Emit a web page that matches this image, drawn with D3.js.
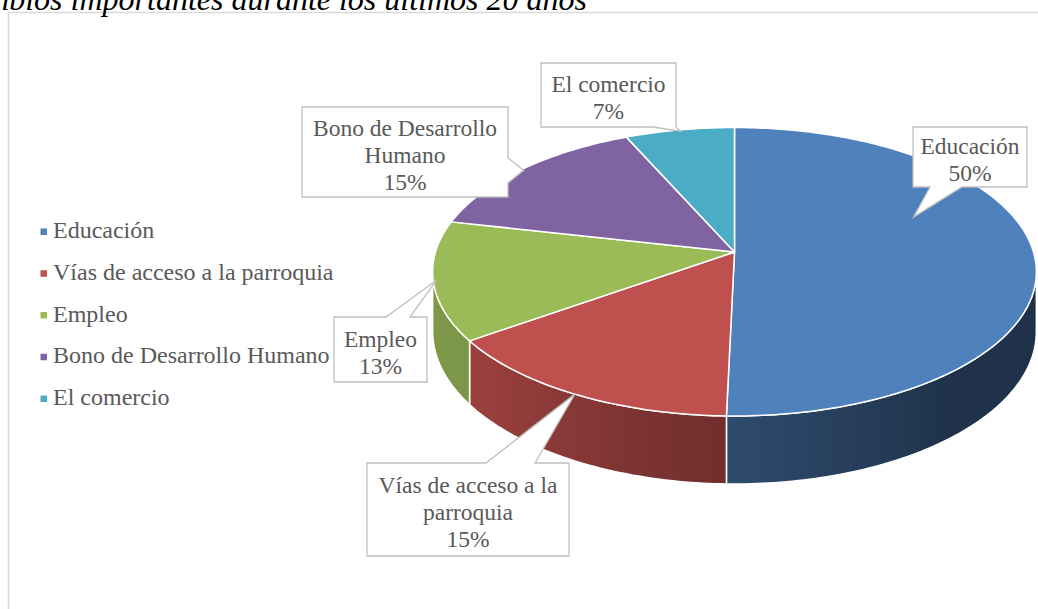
<!DOCTYPE html>
<html>
<head>
<meta charset="utf-8">
<script src="https://cdn.jsdelivr.net/npm/d3@7"></script>
<style>
  body { margin: 0; background: #fff; }
  svg { display: block; font-family: "Liberation Serif", "Times New Roman", serif; }
</style>
</head>
<body>
<div id="chart"></div>
<script>
var categories = ["Educación", "Vías de acceso a la parroquia", "Empleo", "Bono de Desarrollo Humano", "El comercio"];
var values = [68, 20, 18, 20, 9];
var colors = ["#4f81bd", "#c0504d", "#9bbb59", "#8064a2", "#4bacc6"];
var labelLines = [["Educación"], ["Vías de acceso a la", "parroquia"], ["Empleo"], ["Bono de Desarrollo", "Humano"], ["El comercio"]];
var title = "Cambios importantes durante los últimos 20 años";

var W = 1038, H = 609;

// pie geometry (tilted, with a bit of perspective)
var cx = 734.5, cy = 252, R = 299, RY = 141.5, P = 0.137, DEPTH = 58.7;

// callout boxes: position, size, which side the pointer leaves from, pointer base offsets
var boxes = [
  {x: 913, y: 127, w: 114, h: 60, side: "bottom", a: 17, b: 49, f: 0.373, r: 0.67},
  {x: 367, y: 463, w: 202, h: 93, side: "top", a: 119, b: 168, f: 0.5, r: 1.0},
  {x: 334, y: 317, w: 93, h: 65, side: "top", a: 52, b: 76, f: 0.5, r: 0.99},
  {x: 302, y: 107, w: 206, h: 90, side: "right", a: 51, b: 76, f: 0.5, r: 0.99},
  {x: 541, y: 63, w: 135, h: 64, side: "bottom", a: 112, b: 135, f: 0.5, r: 0.99}
];

var svg = d3.select("#chart").append("svg")
  .attr("width", W)
  .attr("height", H);

var defs = svg.append("defs");

// frame and title
svg.append("rect")
  .attr("x", 8.5).attr("y", 12.5)
  .attr("width", 1100).attr("height", 700)
  .attr("fill", "none")
  .attr("stroke", "#d9d9d9")
  .attr("stroke-width", 1.5);

svg.append("text")
  .attr("x", 587).attr("y", 9.5)
  .attr("text-anchor", "end")
  .style("font-style", "italic")
  .style("font-size", "32px")
  .attr("fill", "#000")
  .text(title);

function proj(a, r, down) {
  var u = Math.sin(a) * r, v = -Math.cos(a) * r;
  var s = 1 / (1 - P * v);
  return [cx + R * u * s, cy + (RY * v + (down || 0)) * s];
}

var deg = Math.PI / 180;
var shade = d3.scaleLinear()
  .domain([90, 140, 181, 230, 270].map(function (d) { return d * deg; }))
  .range([0.38, 0.39, 0.58, 0.80, 0.82])
  .clamp(true);

function darken(c, f) {
  var rgb = d3.rgb(c);
  return d3.rgb(rgb.r * f, rgb.g * f, rgb.b * f).formatHex();
}

var arcs = d3.pie().sort(null).value(function (d) { return d; })(values);
var total = d3.sum(values);

var aR = Math.acos(-P), aL = 2 * Math.PI - aR;
var line = d3.line();

// side walls
var walls = svg.append("g").attr("class", "walls");
arcs.forEach(function (d, i) {
  var a0 = Math.max(d.startAngle, aR), a1 = Math.min(d.endAngle, aL);
  if (a0 >= a1) return;
  var n = Math.max(4, Math.ceil((a1 - a0) / deg));
  var top = d3.range(n + 1).map(function (k) { return proj(a0 + (a1 - a0) * k / n, 1, 0); });
  var bot = d3.range(n + 1).map(function (k) { return proj(a0 + (a1 - a0) * k / n, 1, DEPTH); }).reverse();

  var x1 = proj(a0, 1)[0], x2 = proj(a1, 1)[0];
  var g = defs.append("linearGradient")
    .attr("id", "side" + i)
    .attr("gradientUnits", "userSpaceOnUse")
    .attr("x1", x1).attr("x2", x2).attr("y1", 0).attr("y2", 0);
  d3.range(11).forEach(function (k) {
    var a = a0 + (a1 - a0) * k / 10;
    g.append("stop")
      .attr("offset", (proj(a, 1)[0] - x1) / (x2 - x1))
      .attr("stop-color", darken(colors[i], shade(a)));
  });

  walls.append("path")
    .attr("d", line(top.concat(bot)) + "Z")
    .attr("fill", "url(#side" + i + ")")
    .attr("stroke", "#fff")
    .attr("stroke-width", 1.5)
    .attr("stroke-linejoin", "round");
});

// top faces
svg.append("g").attr("class", "faces")
  .selectAll("path")
  .data(arcs)
  .enter()
  .append("path")
    .attr("d", function (d) {
      var n = Math.max(4, Math.ceil((d.endAngle - d.startAngle) / deg));
      var pts = d3.range(n + 1).map(function (k) {
        return proj(d.startAngle + (d.endAngle - d.startAngle) * k / n, 1, 0);
      });
      return line([proj(0, 0)].concat(pts)) + "Z";
    })
    .style("fill", function (d, i) { return colors[i]; })
    .attr("stroke", "#fff")
    .attr("stroke-width", 1.5)
    .attr("stroke-linejoin", "round");

// callouts
var LH = 27;
var callouts = svg.append("g").attr("class", "callouts");
arcs.forEach(function (d, i) {
  var b = boxes[i];
  var tip = proj(d.startAngle + (d.endAngle - d.startAngle) * b.f, b.r, 0);
  var x0 = b.x, y0 = b.y, x1 = b.x + b.w, y1 = b.y + b.h;
  var p;
  if (b.side === "bottom") {
    p = [[x0, y0], [x1, y0], [x1, y1], [x0 + b.b, y1], tip, [x0 + b.a, y1], [x0, y1]];
  } else if (b.side === "top") {
    p = [[x0, y0], [x0 + b.a, y0], tip, [x0 + b.b, y0], [x1, y0], [x1, y1], [x0, y1]];
  } else {
    p = [[x0, y0], [x1, y0], [x1, y0 + b.a], tip, [x1, y0 + b.b], [x1, y1], [x0, y1]];
  }
  callouts.append("path")
    .attr("d", line(p) + "Z")
    .attr("fill", "#fff")
    .attr("stroke", "#bfbfbf")
    .attr("stroke-width", 1.3)
    .attr("stroke-linejoin", "miter");

  var lines = labelLines[i].concat([Math.round(d.value / total * 100) + "%"]);
  var first = y0 + b.h / 2 - lines.length * LH / 2 + LH * 0.9;
  var t = callouts.append("text")
    .attr("text-anchor", "middle")
    .attr("fill", "#595959")
    .style("font-size", "23.5px");
  lines.forEach(function (s, k) {
    t.append("tspan")
      .attr("x", x0 + b.w / 2)
      .attr("y", first + k * LH)
      .text(s);
  });
});

// legend
var legend = svg.append("g").attr("class", "legend");
var legendY = d3.scalePoint().domain(categories).range([238, 405]);
categories.forEach(function (c, i) {
  var y = legendY(c);
  legend.append("rect")
    .attr("x", 40.5).attr("y", y - 9.5)
    .attr("width", 6.5).attr("height", 6.5)
    .style("fill", colors[i]);
  legend.append("text")
    .attr("x", 53).attr("y", y)
    .attr("fill", "#595959")
    .style("font-size", "24px")
    .text(c);
});
</script>
</body>
</html>
